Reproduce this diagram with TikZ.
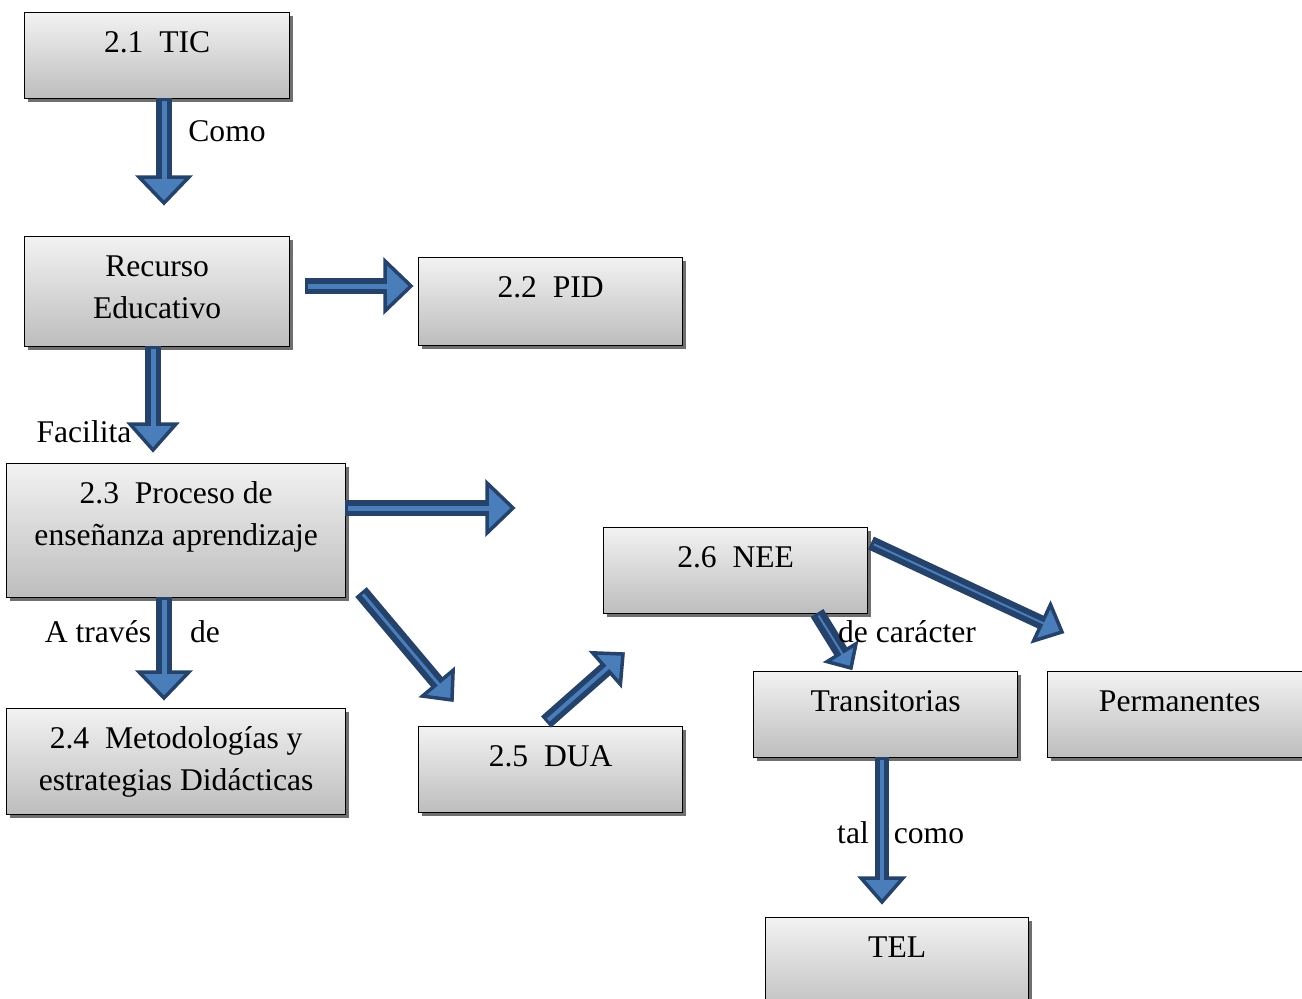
\documentclass[tikz,border=0pt]{standalone}
\usepackage{fontspec}
\setmainfont{Liberation Serif}
\usetikzlibrary{calc,shadows}
\definecolor{navy}{HTML}{25426B}
\definecolor{lblue}{HTML}{4A7EBB}
\definecolor{boxtop}{HTML}{F2F2F2}
\definecolor{boxbot}{HTML}{BDBDBD}
\definecolor{shadowgray}{HTML}{6F6F6F}
\newcommand\tl[1]{\begin{tabular}[t]{@{}c@{}}#1\end{tabular}}
% block arrow: #1 from, #2 to, #3 shaft width, #4 inner width, #5 head length, #6 head half width
\newcommand\barrow[6]{%
  \coordinate (hb) at ($(#2)!#5!(#1)$);
  \draw[navy, line width=#3] (#1) -- (hb);
  \filldraw[draw=navy, fill=lblue, line width=3.5pt, line join=miter]
     ($(hb)!#6!90:(#2)$) -- (#2) -- ($(hb)!#6!-90:(#2)$) -- cycle;
  \draw[lblue, line width=#4, shorten <=3pt] (#1) -- ($(hb)!-6pt!(#1)$);
}
\tikzset{
  box/.style={draw=black, line width=1.3pt, top color=boxtop, bottom color=boxbot,
    inner sep=0pt, anchor=north west,
    drop shadow={shadow xshift=3pt, shadow yshift=-3pt, fill=shadowgray, opacity=1}},
  txt/.style={inner sep=0pt, anchor=base, font=\fontsize{31.6}{42}\selectfont},
  lbl/.style={inner sep=0pt, anchor=base, font=\fontsize{31.6}{42}\selectfont},
}
\begin{document}
\begin{tikzpicture}[x=1pt,y=-1pt]
\useasboundingbox (0,0) rectangle (1302,999);
\clip (0,0) rectangle (1302,999);
\fill[white] (0,0) rectangle (1302,999);

% boxes
\node[box, minimum width=265pt, minimum height=86pt]  (tic) at (24,12)   {};
\node[box, minimum width=265pt, minimum height=110pt] (rec) at (24,236)  {};
\node[box, minimum width=264pt, minimum height=88pt]  (pid) at (418,257) {};
\node[box, minimum width=339pt, minimum height=134pt] (pro) at (6,463)   {};
\node[box, minimum width=339pt, minimum height=106pt] (met) at (6,708)   {};
\node[box, minimum width=264pt, minimum height=86pt]  (dua) at (418,726) {};
\node[box, minimum width=264pt, minimum height=86pt]  (nee) at (603,527) {};
\node[box, minimum width=264pt, minimum height=86pt]  (tra) at (753,671) {};
\node[box, minimum width=256pt, minimum height=86pt]  (per) at (1047,671) {};
\node[box, minimum width=263pt, minimum height=100pt] (tel) at (765,917) {};

% box texts
\node[txt] (tict) at ($(tic.north)+(0,40)$) {2.1\ \ TIC};
\node[txt] (rect) at ($(rec.north)+(0,40)$) {\tl{Recurso\\Educativo}};
\node[txt] (pidt) at ($(pid.north)+(0,40)$) {2.2\ \ PID};
\node[txt] (prot) at ($(pro.north)+(0,40)$) {\tl{2.3\ \ Proceso de\\enseñanza aprendizaje}};
\node[txt] (mett) at ($(met.north)+(0,40)$) {\tl{2.4\ \ Metodologías y\\estrategias Didácticas}};
\node[txt] (duat) at ($(dua.north)+(0,40)$) {2.5\ \ DUA};
\node[txt] (neet) at ($(nee.north)+(0,40)$) {2.6\ \ NEE};
\node[txt] (trat) at ($(tra.north)+(0,40)$) {Transitorias};
\node[txt] (pert) at ($(per.north)+(4,40)$) {Permanentes};
\node[txt] (telt) at ($(tel.north)+(0,40)$) {TEL};

% arrow end points
\coordinate (a1s) at (164,98);   \coordinate (a1t) at (164,203);
\coordinate (a2s) at (305,286);  \coordinate (a2t) at (411,286);
\coordinate (a3s) at (153,346);  \coordinate (a3t) at (153,450);
\coordinate (a4s) at (345,508);  \coordinate (a4t) at (513,508);
\coordinate (a5s) at (164,597);  \coordinate (a5t) at (164,698);
\coordinate (a6s) at (361,592);  \coordinate (a6t) at (452,700);
\coordinate (a7s) at (546,722);  \coordinate (a7t) at (623,654);
\coordinate (a8s) at (817,613);  \coordinate (a8t) at (851,668);
\coordinate (a9s) at (871,543);  \coordinate (a9t) at (1062,632);
\coordinate (a10s) at (882,757); \coordinate (a10t) at (882,902);

\barrow{a1s}{a1t}{16pt}{5pt}{26pt}{25pt}
\barrow{a2s}{a2t}{16pt}{5pt}{26pt}{25pt}
\barrow{a3s}{a3t}{16pt}{5pt}{26pt}{23pt}
\barrow{a4s}{a4t}{16pt}{5pt}{26pt}{25pt}
\barrow{a5s}{a5t}{16pt}{5pt}{26pt}{25pt}
\barrow{a6s}{a6t}{15pt}{3pt}{22pt}{20pt}
\barrow{a7s}{a7t}{15pt}{4pt}{22pt}{21pt}
\barrow{a8s}{a8t}{15pt}{2pt}{18pt}{17pt}
\barrow{a9s}{a9t}{14pt}{2pt}{22pt}{20pt}
\barrow{a10s}{a10t}{14pt}{4pt}{24pt}{21pt}

% connector labels
\node[lbl] (lcomo) at (227,141) {Como};
\node[lbl] (lfac)  at (84,442)  {Facilita};
\node[lbl] (latr)  at (98,642)  {A través};
\node[lbl] (lde)   at (205,642) {de};
\node[lbl] (ldec)  at (907,642) {de carácter};
\node[lbl] (ltal)  at (853,843) {tal};
\node[lbl] (lcom2) at (929,843) {como};
\end{tikzpicture}
\end{document}
